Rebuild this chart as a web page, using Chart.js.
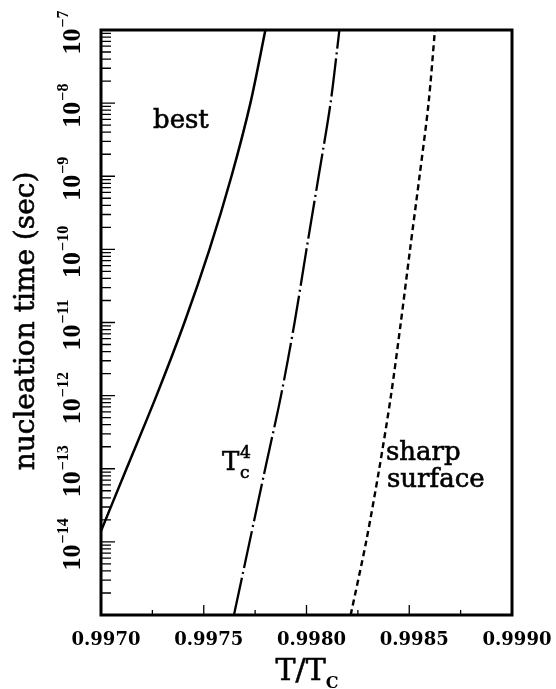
<!DOCTYPE html>
<html>
<head>
<meta charset="utf-8">
<script src="https://cdn.jsdelivr.net/npm/chart.js@4/dist/chart.umd.min.js"></script>
<style>
  html, body { margin: 0; padding: 0; background: #fff; }
  #wrap { width: 556px; height: 689px; }
</style>
</head>
<body>
<div id="wrap"><canvas id="c" width="556" height="689"></canvas></div>
<script>
// T/Tc values and nucleation times (sec) for the three models
const bestT     = [0.997000, 0.997124, 0.997270, 0.997406, 0.997528, 0.997635, 0.997727, 0.997800];
const bestTime  = [1.41e-14, 1e-13, 1e-12, 1e-11, 1e-10, 1e-9, 1e-8, 1e-7];

const tc4T      = [0.997647, 0.997723, 0.997799, 0.997876, 0.997942, 0.998000, 0.998059, 0.998117, 0.998160];
const tc4Time   = [1e-15, 1e-14, 1e-13, 1e-12, 1e-11, 1e-10, 1e-9, 1e-8, 1e-7];

const sharpT    = [0.998215, 0.998290, 0.998354, 0.998411, 0.998459, 0.998504, 0.998550, 0.998594, 0.998625];
const sharpTime = [1e-15, 1e-14, 1e-13, 1e-12, 1e-11, 1e-10, 1e-9, 1e-8, 1e-7];

// axis ticks
const xMajorTicks  = [0.9970, 0.9975, 0.9980, 0.9985, 0.9990];
const xTickLabels  = ['0.9970', '0.9975', '0.9980', '0.9985', '0.9990'];
const xMinorTicks  = [0.99725, 0.99775, 0.99825, 0.99875];
const yDecades     = [-15, -14, -13, -12, -11, -10, -9, -8, -7];
const yLabelExps   = [-14, -13, -12, -11, -10, -9, -8, -7];

const pairs = (xs, ys) => xs.map((x, i) => ({ x: x, y: ys[i] }));

const SERIF = '"DejaVu Serif", "Liberation Serif", serif';
const LIB = '"Liberation Serif", serif';

// filled text with a hairline outline for a slightly heavier look
function heavyText(ctx, s, x, y) {
  ctx.fillText(s, x, y);
  ctx.strokeText(s, x, y);
}

// frame, inward ticks, tick labels, titles and curve labels
const decorations = {
  id: 'decorations',
  afterDatasetsDraw(chart) {
    const ctx = chart.ctx;
    const xs = chart.scales.x, ys = chart.scales.y;
    const a = chart.chartArea;
    ctx.save();
    ctx.strokeStyle = '#000';
    ctx.fillStyle = '#000';

    // frame
    ctx.lineWidth = 3;
    ctx.strokeRect(a.left, a.top, a.right - a.left, a.bottom - a.top);

    // x ticks (inside, from the bottom edge)
    ctx.lineWidth = 1.3;
    ctx.beginPath();
    xMajorTicks.forEach(v => {
      const px = xs.getPixelForValue(v);
      ctx.moveTo(px, a.bottom); ctx.lineTo(px, a.bottom - 10);
    });
    xMinorTicks.forEach(v => {
      const px = xs.getPixelForValue(v);
      ctx.moveTo(px, a.bottom); ctx.lineTo(px, a.bottom - 5);
    });
    // y ticks (inside, from the left edge)
    yDecades.forEach(e => {
      const py = ys.getPixelForValue(Math.pow(10, e));
      ctx.moveTo(a.left, py); ctx.lineTo(a.left + 14, py);
      if (e < -7) {
        for (let m = 2; m <= 9; m++) {
          const pm = ys.getPixelForValue(m * Math.pow(10, e));
          ctx.moveTo(a.left, pm); ctx.lineTo(a.left + 10, pm);
        }
      }
    });
    ctx.stroke();

    // x tick labels
    ctx.font = 'bold 18px ' + SERIF;
    ctx.textAlign = 'center';
    ctx.textBaseline = 'alphabetic';
    xMajorTicks.forEach((v, i) => {
      ctx.fillText(xTickLabels[i], xs.getPixelForValue(v) + 5, 645);
    });

    // y tick labels, rotated, as powers of ten
    yLabelExps.forEach(e => {
      const py = ys.getPixelForValue(Math.pow(10, e));
      ctx.save();
      ctx.translate(80, py + 3);
      ctx.rotate(-Math.PI / 2);
      ctx.textAlign = 'left';
      ctx.font = 'bold 26px ' + LIB;
      const wb = ctx.measureText('10').width;
      ctx.font = 'bold 16px ' + LIB;
      const expText = '\u2212' + Math.abs(e);
      const we = ctx.measureText(expText).width;
      const start = -(wb + we) / 2;
      ctx.font = 'bold 26px ' + LIB;
      ctx.fillText('10', start, 0);
      ctx.font = 'bold 16px ' + LIB;
      ctx.fillText(expText, start + wb + 1, -12);
      ctx.restore();
    });

    ctx.lineWidth = 0.6;

    // y axis title
    ctx.save();
    ctx.translate(34, 321);
    ctx.rotate(-Math.PI / 2);
    ctx.textAlign = 'center';
    ctx.font = '28px ' + SERIF;
    heavyText(ctx, 'nucleation time (sec)', 0, 0);
    ctx.restore();

    // x axis title: T/T_C
    ctx.textAlign = 'left';
    ctx.font = '30px ' + SERIF;
    const main = 'T/T';
    const wm = ctx.measureText(main).width;
    ctx.font = 'bold 16px ' + SERIF;
    const wc = ctx.measureText('C').width;
    const x0 = 307 - (wm + wc) / 2;
    ctx.font = '30px ' + SERIF;
    heavyText(ctx, main, x0, 680);
    ctx.font = 'bold 16px ' + SERIF;
    ctx.fillText('C', x0 + wm, 688);

    // curve labels
    ctx.font = '26px ' + SERIF;
    heavyText(ctx, 'best', 153, 128);
    heavyText(ctx, 'sharp', 386, 460);
    heavyText(ctx, 'surface', 387, 487);
    heavyText(ctx, 'T', 222, 470);
    ctx.font = '17px ' + SERIF;
    heavyText(ctx, '4', 240, 458);
    heavyText(ctx, 'c', 240, 478);

    ctx.restore();
  }
};

const lineStyle = {
  showLine: true,
  borderColor: '#000',
  pointRadius: 0,
  tension: 0.3
};

new Chart(document.getElementById('c'), {
  type: 'scatter',
  data: {
    datasets: [
      Object.assign({ label: 'best', data: pairs(bestT, bestTime), borderWidth: 2.5 }, lineStyle),
      Object.assign({ label: 'Tc^4', data: pairs(tc4T, tc4Time), borderWidth: 2.3,
                      borderDash: [38, 4, 2, 4] }, lineStyle),
      Object.assign({ label: 'sharp surface', data: pairs(sharpT, sharpTime), borderWidth: 2.4,
                      borderDash: [6, 4] }, lineStyle)
    ]
  },
  options: {
    responsive: false,
    animation: false,
    devicePixelRatio: 1,
    layout: { padding: { left: 101, right: 44, top: 30, bottom: 74 } },
    plugins: { legend: { display: false }, tooltip: { enabled: false } },
    scales: {
      x: {
        type: 'linear',
        min: 0.9970,
        max: 0.9990,
        grid: { display: false },
        border: { display: false },
        ticks: { display: false },
        afterFit: s => { s.height = 0; }
      },
      y: {
        type: 'logarithmic',
        min: 1e-15,
        max: 1e-7,
        grid: { display: false },
        border: { display: false },
        ticks: { display: false },
        afterFit: s => { s.width = 0; }
      }
    }
  },
  plugins: [decorations]
});
</script>
</body>
</html>
